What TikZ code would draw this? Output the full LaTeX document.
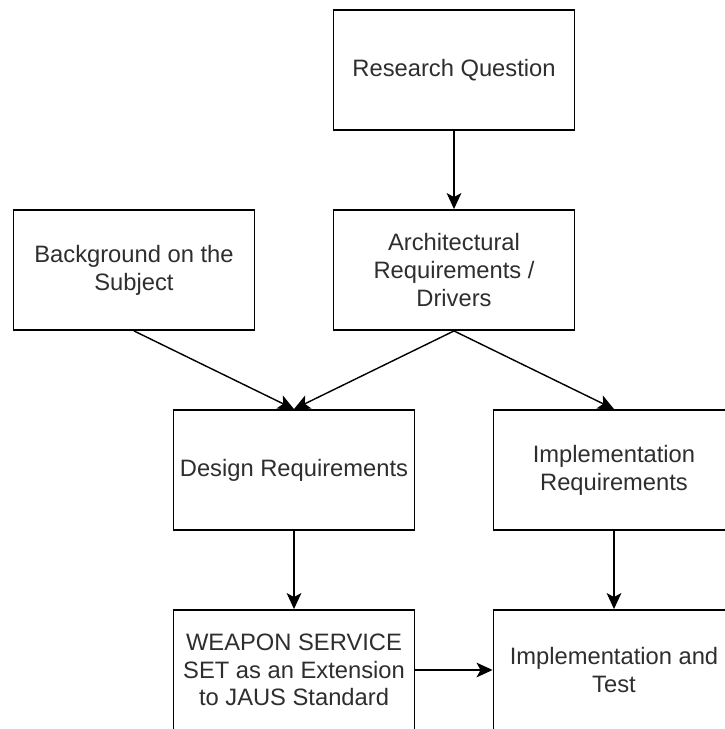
\documentclass[tikz,border=0pt]{standalone}
\usepackage{fontspec}
\setmainfont{Liberation Sans}
\usetikzlibrary{arrows.meta}
\begin{document}
\begin{tikzpicture}[x=0.75pt,y=-0.75pt,
  blk/.style={draw=black, line width=1.4pt, fill=white,
    minimum width=180.75pt, minimum height=90pt, inner sep=0pt,
    align=center, text=black!82,
    font=\fontsize{17.8pt}{20.8pt}\selectfont},
  flow/.style={draw=black, line width=1.3pt,
    -{Stealth[length=12pt,width=11pt,inset=3pt]}},
  slant/.style={flow, line width=1.05pt}]
\useasboundingbox (0,0) rectangle (725,729);
\clip (0,0) rectangle (725,729);

% boxes
\node[blk] (rq)   at (454,70)  {Research Question};
\node[blk] (bg)   at (134,270) {Background on the\\Subject};
\node[blk] (arch) at (454,270) {Architectural\\Requirements /\\Drivers};
\node[blk] (des)  at (294,470) {Design Requirements};
\node[blk] (impr) at (614,470) {Implementation\\Requirements};
\node[blk] (wss)  at (294,670) {WEAPON SERVICE\\SET as an Extension\\to JAUS Standard};
\node[blk] (impt) at (614,670) {Implementation and\\Test};

% connectors
\draw[flow] (rq.south) -- (arch.north);
\draw[slant] (bg.south) -- (des.north);
\draw[slant] (arch.south) -- (des.north);
\draw[slant] (arch.south) -- (impr.north);
\draw[flow] (des.south) -- (wss.north);
\draw[flow] (impr.south) -- (impt.north);
\draw[flow] (wss.east) -- (impt.west);
\end{tikzpicture}
\end{document}
